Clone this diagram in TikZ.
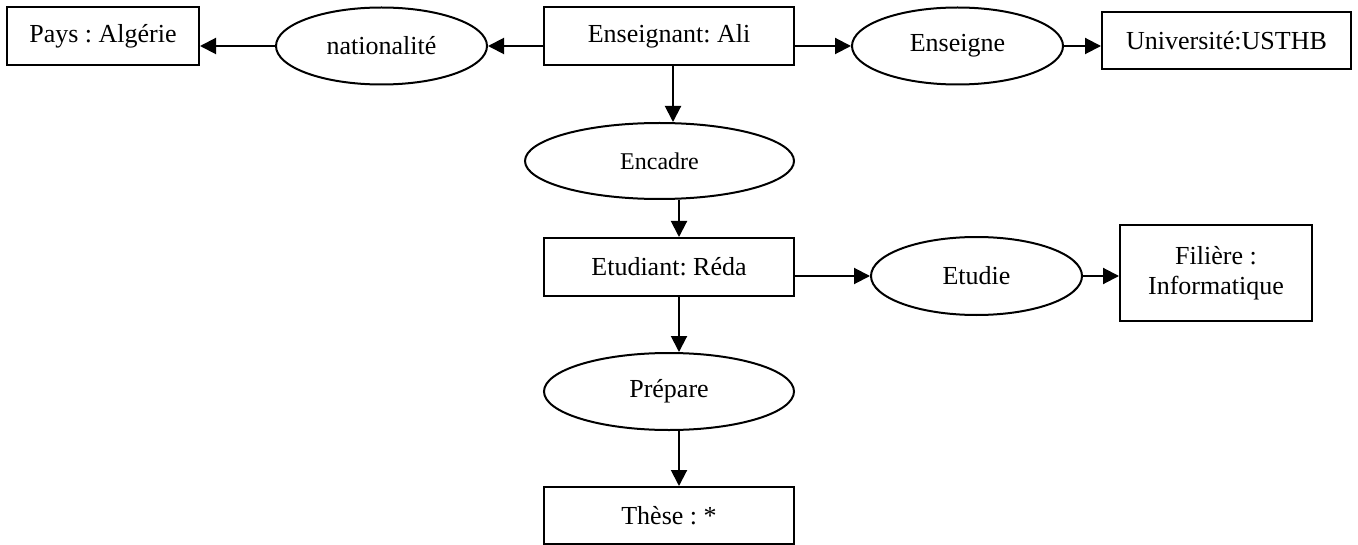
\documentclass[tikz,border=0pt]{standalone}
\usepackage{fontspec}
\setmainfont{Liberation Serif}
\usetikzlibrary{shapes.geometric,arrows.meta}
\frenchspacing

\tikzset{
  entity/.style={draw, line width=1pt, rectangle, inner sep=0pt,
                 font=\fontsize{13}{15}\selectfont, align=center},
  relation/.style={draw, line width=1pt, ellipse, inner sep=0pt,
                   font=\fontsize{13}{15}\selectfont},
  arr/.style={line width=1pt, -{Triangle[length=8pt,width=8pt]}}
}

\begin{document}
\begin{tikzpicture}[x=0.5pt, y=-0.5pt]
  \useasboundingbox (0,0) rectangle (1358,545);

  % entities (rectangles)
  \node[entity, minimum width=96pt, minimum height=29pt] (pays) at (103,36) {Pays : Algérie};
  \node[entity, minimum width=125pt, minimum height=29pt] (ens) at (669,36) {Enseignant: Ali};
  \node[entity, minimum width=124.5pt, minimum height=28.5pt] (univ) at (1226.5,40.5) {Université:USTHB};
  \node[entity, minimum width=125pt, minimum height=29pt] (etu) at (669,267) {Etudiant: Réda};
  \node[entity, minimum width=96pt, minimum height=48pt] (fil) at (1216,273) {Filière :\\Informatique};
  \node[entity, minimum width=125pt, minimum height=28.5pt] (these) at (669,515.5) {Thèse : *};

  % relations (ellipses)
  \node[relation, minimum width=105.5pt, minimum height=38.5pt] (nat) at (381.5,46) {nationalité};
  \node[relation, minimum width=105.5pt, minimum height=38.5pt] (ensg) at (957.5,46) {Enseigne};
  \node[relation, minimum width=134.5pt, minimum height=38pt, font=\fontsize{12}{14}\selectfont] (enc) at (659.5,161) {Encadre};
  \node[relation, minimum width=105.5pt, minimum height=39pt] (etd) at (976.5,276) {Etudie};
  \node[relation, minimum width=125pt, minimum height=38.5pt] (prep) at (669,391.5) {Prépare};

  % connectors
  \draw[arr] (ens.west |- nat.east) -- (nat.east);
  \draw[arr] (nat.west) -- (nat.west -| pays.east);
  \draw[arr] (ens.east |- ensg.west) -- (ensg.west);
  \draw[arr] (ensg.east) -- (ensg.east -| univ.west);
  \draw[arr] ([xshift=2pt]ens.south) -- ([xshift=2pt]ens.south |- enc.north);
  \draw[arr] ([xshift=5pt]enc.south -| etu.north) -- ([xshift=5pt]etu.north);
  \draw[arr] (etu.east |- etd.west) -- (etd.west);
  \draw[arr] (etd.east) -- (etd.east -| fil.west);
  \draw[arr] ([xshift=5pt]etu.south) -- ([xshift=5pt]etu.south |- prep.north);
  \draw[arr] ([xshift=5pt]prep.south) -- ([xshift=5pt]these.north);
\end{tikzpicture}
\end{document}
